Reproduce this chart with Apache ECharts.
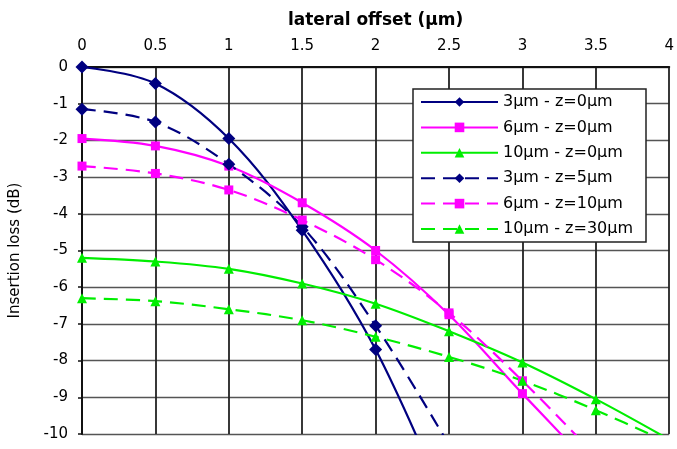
<!DOCTYPE html>
<html>
<head>
<meta charset="utf-8">
<script src="https://cdn.jsdelivr.net/npm/echarts@6/dist/echarts.min.js"></script>
<style>html,body{margin:0;padding:0;background:#fff}#c{width:677px;height:449px}</style>
</head>
<body>
<div id="c"></div>
<script>
const xTicks = [0, 0.5, 1, 1.5, 2, 2.5, 3, 3.5, 4];
const s3z0  = [[0,0],[0.5,-0.45],[1,-1.95],[1.5,-4.45],[2,-7.7],[2.5,-12.1]];
const s6z0  = [[0,-1.95],[0.5,-2.15],[1,-2.7],[1.5,-3.7],[2,-5.0],[2.5,-6.75],[3,-8.9],[3.5,-11.0]];
const s10z0 = [[0,-5.2],[0.5,-5.3],[1,-5.5],[1.5,-5.9],[2,-6.45],[2.5,-7.2],[3,-8.05],[3.5,-9.05],[4,-10.15]];
const s3z5  = [[0,-1.15],[0.5,-1.5],[1,-2.65],[1.5,-4.35],[2,-7.05],[2.5,-10.3]];
const s6z10 = [[0,-2.7],[0.5,-2.9],[1,-3.35],[1.5,-4.17],[2,-5.25],[2.5,-6.7],[3,-8.55],[3.5,-10.6]];
const s10z30= [[0,-6.3],[0.5,-6.38],[1,-6.6],[1.5,-6.9],[2,-7.35],[2.5,-7.9],[3,-8.55],[3.5,-9.35],[4,-10.25]];
const names = ['3µm - z=0µm','6µm - z=0µm','10µm - z=0µm','3µm - z=5µm','6µm - z=10µm','10µm - z=30µm'];

const NAVY='#000080', MAG='#ff00ff', GRN='#00ee00';
const FONT='DejaVu Sans, Liberation Sans, sans-serif';
function ser(name, data, color, symbol, size, dashed){
  return {
    name, type:'line', data, smooth:0.35, clip:true,
    symbol, symbolSize:size, showAllSymbol:true,
    lineStyle:{color, width:2.2, type: dashed ? [14,8] : 'solid'},
    itemStyle:{color},
    z: 3
  };
}
const chart = echarts.init(document.getElementById('c'), null, {renderer:'canvas'});
chart.setOption({
  backgroundColor:'#fff',
  animation:false,
  textStyle:{fontFamily:FONT},
  grid:{left:82, right:2, top:67, bottom:15, containLabel:false},
  xAxis:{
    type:'value', position:'top', min:0, max:4, interval:0.5,
    name:'lateral offset (µm)', nameLocation:'middle', nameGap:38,
    nameTextStyle:{fontSize:17, fontWeight:'bold', color:'#000', fontFamily:FONT},
    axisLine:{show:true, onZero:false, lineStyle:{color:'#111', width:2}},
    axisTick:{show:false},
    axisLabel:{fontSize:15, color:'#000', margin:13, fontFamily:FONT, formatter:v=>String(v)},
    splitLine:{show:true, lineStyle:{color:'#222', width:1.8}}
  },
  yAxis:{
    type:'value', min:-10, max:0, interval:1,
    name:'Insertion loss (dB)', nameLocation:'middle', nameGap:59, nameRotate:90,
    nameTextStyle:{fontSize:15, color:'#000', fontFamily:FONT},
    axisLine:{show:true, onZero:false, lineStyle:{color:'#111', width:2}},
    axisTick:{show:true, length:4, lineStyle:{color:'#111', width:1.5}},
    axisLabel:{fontSize:15, color:'#000', margin:14, fontFamily:FONT},
    splitLine:{show:true, lineStyle:{color:'#555', width:1.3}}
  },
  legend:{
    orient:'vertical', left:413, top:89,
    backgroundColor:'#fff', borderColor:'#222', borderWidth:1.5,
    padding:[5,13,5,7], itemGap:9.4, itemWidth:77, itemHeight:12,
    textStyle:{fontSize:16, color:'#000', fontFamily:FONT, lineHeight:16},
    data:names
  },
  series:[
    ser(names[0], s3z0, NAVY, 'diamond', 13, false),
    ser(names[1], s6z0, MAG, 'rect', 9, false),
    ser(names[2], s10z0, GRN, 'triangle', 10, false),
    ser(names[3], s3z5, NAVY, 'diamond', 13, true),
    ser(names[4], s6z10, MAG, 'rect', 9, true),
    ser(names[5], s10z30, GRN, 'triangle', 10, true)
  ]
});
</script>
</body>
</html>
